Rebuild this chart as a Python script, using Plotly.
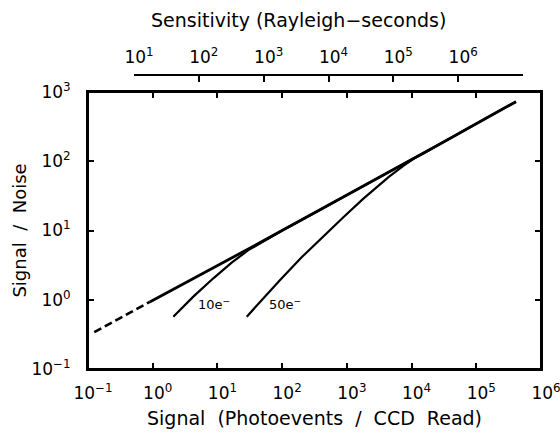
import plotly.graph_objects as go

# Photon-limited (no read noise) curve: dashed low-signal part and solid part
ideal_dash_x = [0.125, 0.9]
ideal_dash_y = [0.34, 0.93]
ideal_x = [0.9, 31, 2.75e4, 4.1e5]
ideal_y = [0.93, 5.5, 178, 725]

# 10 e- read noise curve
rn10_x = [2.08, 4.24, 8.65, 16.6, 30, 55, 100, 300, 2.75e4]
rn10_y = [0.57, 1.11, 2.04, 3.43, 5.2, 7.3, 10.0, 17.5, 178]

# 50 e- read noise curve
rn50_x = [28.4, 50, 93, 200, 434, 900, 1800, 3000, 4500, 7460, 1.1e4, 1.6e4, 2.75e4, 4.1e5]
rn50_y = [0.57, 1.03, 1.93, 4.1, 8.3, 15.8, 28.8, 44, 60, 86, 110, 132, 178, 725]

bottom_ticks = [1e-1, 1, 1e1, 1e2, 1e3, 1e4, 1e5, 1e6]
bottom_labels = ["10<sup>−1</sup>", "10<sup>0</sup>", "10<sup>1</sup>", "10<sup>2</sup>",
                 "10<sup>3</sup>", "10<sup>4</sup>", "10<sup>5</sup>", "10<sup>6</sup>"]
left_ticks = [1e-1, 1, 1e1, 1e2, 1e3]
left_labels = ["10<sup>−1</sup>", "10<sup>0</sup>", "10<sup>1</sup>", "10<sup>2</sup>", "10<sup>3</sup>"]
top_ticks = [1e1, 1e2, 1e3, 1e4, 1e5, 1e6, 1e7]
top_labels = ["10<sup>1</sup>", "10<sup>2</sup>", "10<sup>3</sup>", "10<sup>4</sup>",
              "10<sup>5</sup>", "10<sup>6</sup>", ""]

FONT = "DejaVu Sans"
NB = "\u00a0"
fig = go.Figure()
fig.add_trace(go.Scatter(x=ideal_dash_x, y=ideal_dash_y, mode="lines",
                         line=dict(color="black", width=2.6, dash="8px,4px")))
fig.add_trace(go.Scatter(x=ideal_x, y=ideal_y, mode="lines",
                         line=dict(color="black", width=2.8)))
fig.add_trace(go.Scatter(x=rn10_x, y=rn10_y, mode="lines",
                         line=dict(color="black", width=2.2)))
fig.add_trace(go.Scatter(x=rn50_x, y=rn50_y, mode="lines",
                         line=dict(color="black", width=2.2)))
# invisible trace to activate the top (sensitivity) axis
fig.add_trace(go.Scatter(x=[1e1, 1e7], y=[None, None], xaxis="x2", yaxis="y2",
                         mode="lines", hoverinfo="skip", showlegend=False))

fig.add_annotation(x=0.669, y=-0.06, xref="x", yref="y", text="10e<sup>−</sup>",
                   showarrow=False, xanchor="left", yanchor="middle",
                   font=dict(family=FONT, size=13, color="black"))
fig.add_annotation(x=1.767, y=-0.06, xref="x", yref="y", text="50e<sup>−</sup>",
                   showarrow=False, xanchor="left", yanchor="middle",
                   font=dict(family=FONT, size=13, color="black"))
fig.add_annotation(x=(298 - 88) / 453, y=1 + (75 - 20) / 294, xref="paper", yref="paper",
                   text="Sensitivity (Rayleigh−seconds)",
                   showarrow=False, xanchor="center", yanchor="middle",
                   font=dict(family=FONT, size=19, color="black"))
# plot frame
fig.add_shape(type="rect", xref="x domain", yref="y domain", x0=0, x1=1, y0=0, y1=1,
              line=dict(color="black", width=2), fillcolor="rgba(0,0,0,0)")

axis_common = dict(type="log", showgrid=False, zeroline=False, showline=True,
                   linecolor="black", linewidth=2, ticks="inside", ticklen=6,
                   tickwidth=1.6, tickcolor="black", mirror="ticks", automargin=False,
                   tickfont=dict(family=FONT, size=17, color="black"))

fig.update_layout(
    width=560, height=441,
    margin=dict(l=88, r=19, t=75, b=72),
    paper_bgcolor="white", plot_bgcolor="rgba(0,0,0,0)",
    showlegend=False,
    xaxis=dict(range=[-1, 6], tickvals=bottom_ticks, ticktext=bottom_labels,
               ticklabelstandoff=8, ticklabelshift=5, ticklabeloverflow="allow",
               title=dict(text=f"Signal{NB}{NB}(Photoevents{NB}{NB}/{NB}{NB}CCD{NB}{NB}Read)",
                          font=dict(family=FONT, size=19, color="black"), standoff=9),
               **axis_common),
    yaxis=dict(range=[-1, 3], domain=[0, 277 / 294], tickvals=left_ticks, ticktext=left_labels,
               ticklabelstandoff=12, ticklabeloverflow="allow",
               title=dict(text=f"Signal{NB}{NB}/{NB}{NB}Noise",
                          font=dict(family=FONT, size=18, color="black"), standoff=0),
               **axis_common),
    yaxis2=dict(type="log", range=[-1, 3], overlaying="y", visible=False, automargin=False,
                showgrid=False, zeroline=False),
    xaxis2=dict(type="log", range=[1, 7], domain=[46 / 453, 435 / 453], anchor="free",
                position=1.0, side="top", showgrid=False, zeroline=False, automargin=False,
                showline=True, linecolor="black", linewidth=2, ticks="inside", ticklen=6,
                tickwidth=1.6, tickcolor="black", tickvals=top_ticks, ticktext=top_labels,
                ticklabelstandoff=4, ticklabelshift=5, ticklabeloverflow="allow",
                tickfont=dict(family=FONT, size=17, color="black")),
)
fig.write_html("out.html")
